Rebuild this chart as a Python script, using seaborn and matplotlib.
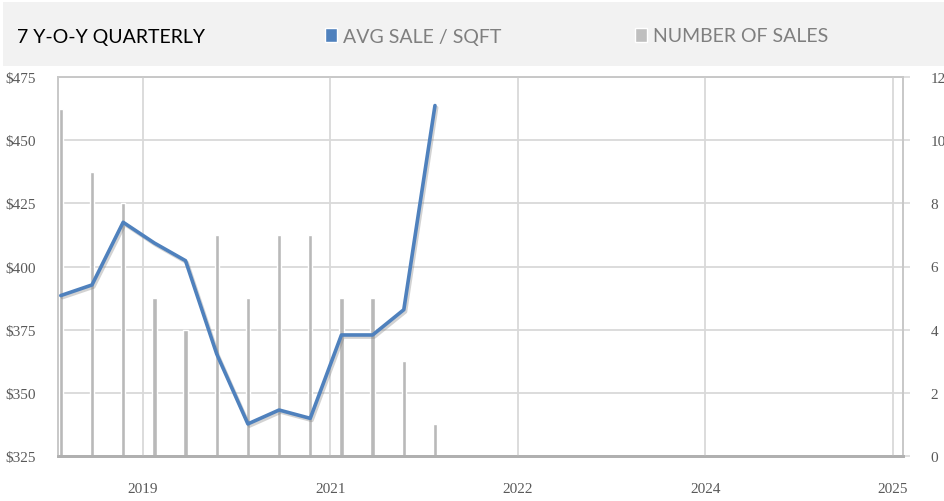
import matplotlib
matplotlib.use("Agg")
import matplotlib.pyplot as plt
import matplotlib.patheffects as pe
from matplotlib.patches import Patch, Rectangle
import seaborn as sns
import pandas as pd

# ---- data ----
quarters = list(range(13))
avg_sale_sqft = [388.5, 392.7, 417.5, 409.3, 402.3, 365.4, 337.7,
                 343.2, 339.9, 372.9, 372.9, 382.9, 463.7]
number_of_sales = [11, 9, 8, 5, 4, 7, 5, 7, 7, 5, 5, 3, 1]
year_labels = ["2019", "2021", "2022", "2024", "2025"]
year_positions = [2.63, 8.645, 14.66, 20.675, 26.69]
left_ticks = [325, 350, 375, 400, 425, 450, 475]
left_labels = ["$325", "$350", "$375", "$400", "$425", "$450", "$475"]
right_ticks = [0, 2, 4, 6, 8, 10, 12]

df = pd.DataFrame({"q": quarters, "avg": avg_sale_sqft, "n": number_of_sales})

sns.set_theme(style="white")
plt.rcParams["font.family"] = ["Liberation Serif", "DejaVu Serif"]

W, H = 945, 502
fig = plt.figure(figsize=(W / 100, H / 100), dpi=100)
fig.patch.set_facecolor("white")

# header band
fig.add_artist(Rectangle((3 / W, 1 - 67 / H), 1, 64 / H, transform=fig.transFigure,
                         facecolor="#f2f2f2", edgecolor="none", zorder=0))

L, R, T, B = 58.3, 902.7, 78, 457
ax1 = fig.add_axes([L / W, 1 - B / H, (R - L) / W, (B - T) / H])
ax2 = ax1.twinx()
ax1.set_zorder(ax2.get_zorder() + 1)
ax1.patch.set_visible(False)

blue = "#4f81bd"
grey_bar = "#b9b9b9"
grid_c = "#d9d9d9"

# bars (right axis)
sns.barplot(data=df, x="q", y="n", native_scale=True, width=0.14,
            color=grey_bar, saturation=1, ax=ax2, zorder=2)
ax2.set_ylim(0, 12)
ax2.set_yticks(right_ticks)
ax2.set_yticklabels([str(t) for t in right_ticks])
ax2.grid(True, axis="y", color=grid_c, lw=1.3)
ax2.set_axisbelow(True)
ax2.set_ylabel("")
ax2.tick_params(axis="y", right=True, length=5, color=grid_c, width=1.2,
                pad=15, labelsize=11, labelcolor="#595959")

# line (left axis)
sns.lineplot(data=df, x="q", y="avg", ax=ax1, color=blue, lw=2.6, zorder=3,
             path_effects=[pe.SimpleLineShadow(offset=(1.2, -1.5), shadow_color="#7f7f7f", alpha=0.35),
                           pe.Normal()])
ax1.set_ylim(325, 475)
ax1.set_yticks(left_ticks)
ax1.set_yticklabels(left_labels)
ax1.set_xlim(-0.08, 27.0)
ax1.set_xticks(year_positions)
ax1.set_xticklabels(year_labels)
ax1.grid(True, axis="x", color=grid_c, lw=1.3)
ax1.grid(False, axis="y")
ax1.set_axisbelow(True)
ax1.set_xlabel("")
ax1.set_ylabel("")
ax1.tick_params(axis="y", left=False, length=0, pad=16, labelsize=11, labelcolor="#595959")
ax1.tick_params(axis="x", bottom=False, length=0, pad=19, labelsize=11, labelcolor="#595959")

for a in (ax1, ax2):
    for s in ("left", "right", "top"):
        a.spines[s].set_color("#c8c8c8")
        a.spines[s].set_linewidth(1.2)
    a.spines["bottom"].set_color("#b0b0b0")
    a.spines["bottom"].set_linewidth(2)

# header texts
fig.text(17 / W, 1 - 37 / H, "7 Y-O-Y QUARTERLY", va="center", ha="left",
         fontsize=14, color="black", family=["Lato", "DejaVu Sans"])
handles = [Patch(facecolor=blue, label="AVG SALE / SQFT"),
           Patch(facecolor="#bfbfbf", label="NUMBER OF SALES")]
leg = fig.legend(handles=handles, loc="center left", bbox_to_anchor=(325 / W, 1 - 37 / H),
                 ncol=2, frameon=False, handlelength=0.62, handleheight=0.75,
                 handletextpad=0.3, columnspacing=6.9, borderpad=0, borderaxespad=0,
                 prop={"family": ["Lato", "DejaVu Sans"], "size": 14})
for t in leg.get_texts():
    t.set_color("#7f7f7f")

fig.savefig("out.png", dpi=100)
